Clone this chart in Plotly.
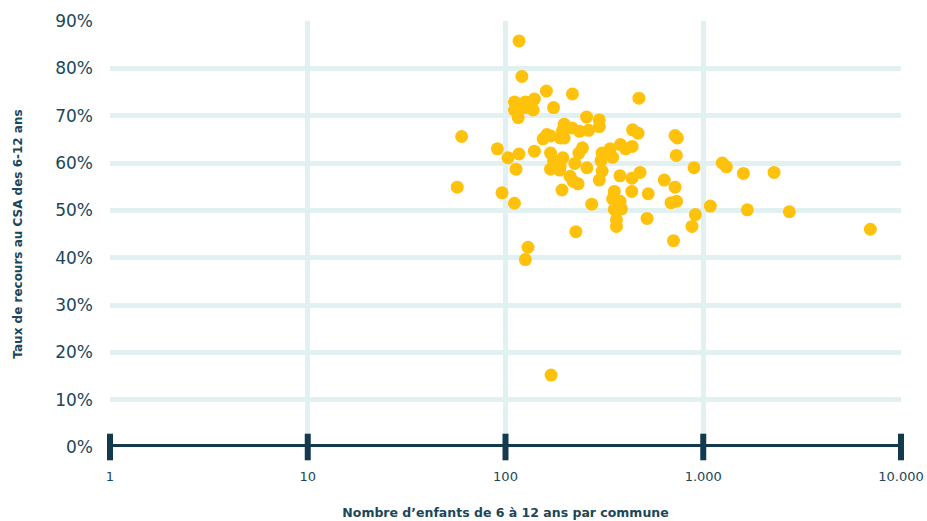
import plotly.graph_objects as go

# Number of children aged 6-12 per commune
enfants = [117, 121, 161, 218, 473, 111, 126, 140, 126, 111, 138, 175, 116, 257, 298, 298,
           198, 217, 237, 263, 439, 468, 60, 162, 169, 155, 189, 198, 194, 91, 103, 117,
           140, 245, 235, 169, 195, 175, 224, 113, 169, 188, 258, 308, 338, 348, 304, 381,
           405, 437, 308, 298, 212, 220, 233, 193, 379, 436, 479, 635, 720, 898, 731, 720,
           740, 96, 111, 435, 527, 355, 348, 380, 355, 386, 364, 364, 273, 520, 687, 733,
           912, 877, 707, 227, 130, 126, 57, 170, 1086, 1248, 1309, 1596, 2280, 1671, 2724,
           6998, 189]
# CSA take-up rate (%)
taux = [85.8, 78.3, 75.2, 74.6, 73.7, 72.9, 72.9, 73.5, 71.7, 71.2, 71.2, 71.7, 69.6, 69.7, 69.1, 67.7,
        68.2, 67.4, 66.7, 66.9, 67.0, 66.3, 65.6, 66.0, 65.7, 65.1, 65.3, 65.3, 66.8, 63.0, 61.1, 61.9,
        62.5, 63.2, 62.1, 62.1, 61.1, 60.5, 59.9, 58.7, 58.7, 58.5, 59.0, 62.1, 63.0, 61.2, 60.5, 63.9,
        63.0, 63.5, 58.3, 56.4, 57.2, 56.1, 55.6, 54.3, 57.3, 56.8, 58.0, 56.4, 54.9, 59.0, 61.6, 65.8,
        65.3, 53.7, 51.5, 54.0, 53.5, 54.0, 52.4, 51.9, 50.2, 50.3, 48.0, 46.6, 51.3, 48.3, 51.6, 51.9,
        49.1, 46.6, 43.6, 45.5, 42.2, 39.6, 54.9, 15.2, 50.9, 60.0, 59.2, 57.8, 58.0, 50.1, 49.7,
        46.0, 59.4]

x_ticks = [1, 10, 100, 1000, 10000]
x_tick_labels = ["1", "10", "100", "1.000", "10.000"]
y_ticks = [0, 10, 20, 30, 40, 50, 60, 70, 80, 90]
y_tick_labels = [f"{v}%" for v in y_ticks]

DARK = "#1a4759"
AXIS = "#123a4c"
GRID = "#e1f1f1"
GOLD = "#fec20c"
FONT = "DejaVu Sans, sans-serif"

fig = go.Figure()
fig.add_trace(go.Scatter(
    x=enfants, y=taux, mode="markers",
    marker=dict(color=GOLD, size=13, line=dict(width=0)),
    hoverinfo="x+y", showlegend=False,
))
# decade tick marks on the baseline
fig.add_trace(go.Scatter(
    x=x_ticks, y=[0] * len(x_ticks), mode="markers",
    marker=dict(symbol="line-ns", size=19, line=dict(color=AXIS, width=6)),
    cliponaxis=False, hoverinfo="skip", showlegend=False,
))

fig.update_layout(
    width=927, height=521,
    margin=dict(l=110, r=26, t=21, b=74),
    plot_bgcolor="white", paper_bgcolor="white",
    font=dict(family=FONT, color=DARK),
    xaxis=dict(
        type="log", range=[0, 4], automargin=False,
        tickvals=x_ticks, ticktext=x_tick_labels,
        tickfont=dict(size=13, color=DARK, family=FONT),
        showgrid=True, gridcolor=GRID, gridwidth=5,
        showline=False, zeroline=False, ticks="",
        ticklabelstandoff=20, ticklabeloverflow="allow",
        title=dict(text="<b>Nombre d’enfants de 6 à 12 ans par commune</b>",
                   font=dict(size=12.5, color=DARK, family=FONT), standoff=25),
    ),
    yaxis=dict(
        range=[0, 90], automargin=False,
        tickvals=y_ticks, ticktext=y_tick_labels,
        tickfont=dict(size=17, color=DARK, family=FONT),
        showgrid=True, gridcolor=GRID, gridwidth=5,
        zeroline=False, showline=False, ticks="",
        ticklabelstandoff=16,
        title=dict(text="<b>Taux de recours au CSA des 6-12 ans</b>",
                   font=dict(size=12, color=DARK, family=FONT), standoff=30),
    ),
    shapes=[dict(type="line", xref="paper", yref="y", x0=0, x1=1, y0=0, y1=0,
                 line=dict(color=AXIS, width=6), layer="above")],
)

fig.write_html(
    "out.html",
    config={"displayModeBar": False},
    post_script="document.body.style.margin='0';document.body.style.overflow='hidden';",
)
